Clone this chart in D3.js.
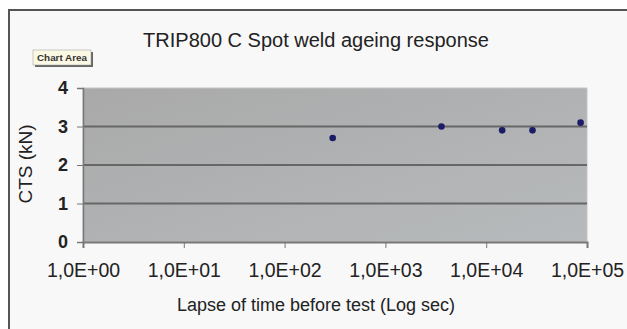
<!DOCTYPE html>
<html>
<head>
<meta charset="utf-8">
<script src="https://cdn.jsdelivr.net/npm/d3@7"></script>
<style>
  body { margin: 0; background: #fff; }
  svg { display: block; font-family: "Liberation Sans", Arial, sans-serif; }
</style>
</head>
<body>
<div id="chart"></div>
<script>
// lapse of time (s) and cross tension strength (kN)
const lapseSec = [300, 3600, 14400, 28800, 86400];
const ctsKN = [2.7, 3.0, 2.9, 2.9, 3.1];
const xTicks = [1, 10, 100, 1000, 10000, 100000];
const xTickLabels = ['1,0E+00', '1,0E+01', '1,0E+02', '1,0E+03', '1,0E+04', '1,0E+05'];
const yTicks = [0, 1, 2, 3, 4];

const w = 627;
const h = 329;
const plot = {left: 83, right: 587, top: 88, bottom: 242};

const svg = d3.select('#chart')
    .append('svg')
    .attr('width', w)
    .attr('height', h);

// outer chart frame
svg.append('rect')
    .attr('x', 9).attr('y', 10)
    .attr('width', 640).attr('height', 340)
    .attr('fill', '#f8f8f8')
    .attr('stroke', '#555')
    .attr('stroke-width', 2);

const xScale = d3.scaleLog().domain([1, 100000]).range([plot.left, plot.right]);
const yScale = d3.scaleLinear().domain([0, 4]).range([plot.bottom, plot.top]);

const grad = svg.append('defs').append('linearGradient')
    .attr('id', 'bg').attr('x1', 0).attr('y1', 0).attr('x2', 1).attr('y2', 1);
grad.append('stop').attr('offset', 0).attr('stop-color', '#a9a9a9');
grad.append('stop').attr('offset', 1).attr('stop-color', '#b7babc');

svg.append('rect')
    .attr('x', plot.left).attr('y', plot.top)
    .attr('width', plot.right - plot.left).attr('height', plot.bottom - plot.top)
    .attr('fill', 'url(#bg)')
    .attr('stroke', '#c4c4c4');

// gridlines
svg.append('g')
    .selectAll('line')
    .data(yTicks.filter(d => d > 0 && d < 4))
    .enter()
    .append('line')
    .attr('x1', plot.left).attr('x2', plot.right)
    .attr('y1', d => yScale(d)).attr('y2', d => yScale(d))
    .attr('stroke', '#676767')
    .attr('stroke-width', 2);

// y axis
const yAxis = svg.append('g')
    .attr('transform', `translate(${plot.left},0)`)
    .call(d3.axisLeft(yScale).tickValues(yTicks).tickSize(6).tickPadding(9).tickFormat(d3.format('d')));
yAxis.select('.domain').attr('stroke', '#777').attr('stroke-width', 1.5);
yAxis.selectAll('.tick line').attr('stroke', '#777');
yAxis.selectAll('text')
    .attr('font-size', 18).attr('font-weight', 'bold').attr('fill', '#222');

// x axis
const xAxis = svg.append('g')
    .attr('transform', `translate(0,${plot.bottom})`)
    .call(d3.axisBottom(xScale).tickValues(xTicks).tickSize(6).tickPadding(15)
        .tickFormat((d, i) => xTickLabels[i]));
xAxis.select('.domain').attr('stroke', '#777').attr('stroke-width', 2);
xAxis.selectAll('.tick line').attr('stroke', '#777');
xAxis.selectAll('text')
    .attr('font-size', 19.5).attr('fill', '#222');

// points
svg.append('g')
    .selectAll('circle')
    .data(lapseSec)
    .enter()
    .append('circle')
    .attr('cx', d => xScale(d))
    .attr('cy', (d, i) => yScale(ctsKN[i]))
    .attr('r', 3.3)
    .attr('fill', '#1c1c66');

// titles
svg.append('text')
    .attr('x', 316).attr('y', 47)
    .attr('text-anchor', 'middle')
    .attr('font-size', 20)
    .attr('fill', '#222')
    .text('TRIP800 C Spot weld ageing response');

svg.append('text')
    .attr('x', 316).attr('y', 311)
    .attr('text-anchor', 'middle')
    .attr('font-size', 18)
    .attr('fill', '#222')
    .text('Lapse of time before test (Log sec)');

svg.append('text')
    .attr('transform', 'translate(32,164) rotate(-90)')
    .attr('text-anchor', 'middle')
    .attr('font-size', 19)
    .attr('fill', '#222')
    .text('CTS (kN)');

// "Chart Area" tooltip box
const tip = svg.append('g').attr('transform', 'translate(33,50)');
tip.append('rect').attr('x', 2).attr('y', 2).attr('width', 58).attr('height', 15).attr('fill', '#666');
tip.append('rect').attr('width', 58).attr('height', 15).attr('fill', '#fbf8e4').attr('stroke', '#999').attr('stroke-width', 0.5);
tip.append('text')
    .attr('x', 29).attr('y', 11)
    .attr('text-anchor', 'middle')
    .attr('font-size', 9).attr('font-weight', 'bold')
    .attr('textLength', 50).attr('lengthAdjust', 'spacingAndGlyphs')
    .attr('fill', '#333')
    .text('Chart Area');
</script>
</body>
</html>
